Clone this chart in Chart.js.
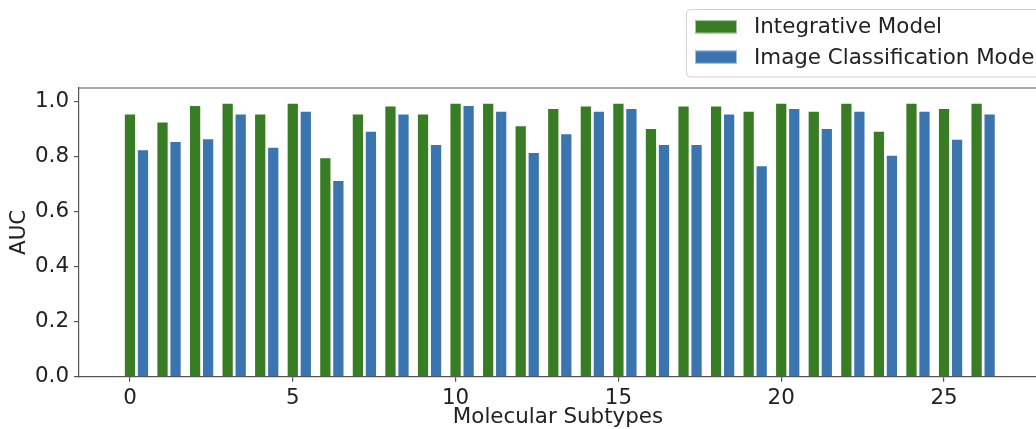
<!DOCTYPE html>
<html>
<head>
<meta charset="utf-8">
<script src="https://cdn.jsdelivr.net/npm/chart.js@4/dist/chart.umd.min.js"></script>
<style>
  html, body { margin: 0; padding: 0; overflow: hidden; background: #fff; width: 1036px; height: 429px; }
  canvas { display: block; }
</style>
</head>
<body>
<canvas id="auc" width="1100" height="440"></canvas>
<script>
// Subtype indices and per-subtype AUC of both models
const subtypes = [0, 1, 2, 3, 4, 5, 6, 7, 8, 9, 10, 11, 12, 13, 14, 15, 16, 17, 18, 19, 20, 21, 22, 23, 24, 25, 26];
const integrativeAUC = [0.956, 0.927, 0.987, 0.995, 0.956, 0.995, 0.797, 0.956, 0.985, 0.956, 0.995, 0.995, 0.913, 0.976,
                        0.985, 0.995, 0.903, 0.985, 0.985, 0.966, 0.995, 0.966, 0.995, 0.893, 0.995, 0.976, 0.995];
const imageClassAUC = [0.826, 0.856, 0.866, 0.956, 0.835, 0.966, 0.714, 0.893, 0.956, 0.845, 0.987, 0.966, 0.816, 0.884,
                       0.966, 0.976, 0.845, 0.845, 0.956, 0.768, 0.976, 0.903, 0.966, 0.806, 0.966, 0.864, 0.956];
const seriesNames = ['Integrative Model', 'Image Classification Model'];
const xTickValues = [0, 5, 10, 15, 20, 25];
const yTickValues = [0, 0.2, 0.4, 0.6, 0.8, 1.0];

const GREEN = '#387d23';
const BLUE = '#3b75af';
const SECOND_BAR_SHIFT = 0.4;   // second bar of each pair sits 0.4 units to the right
const TEXT = '#222222';
const SPINE = '#555555';
const FONT = { family: '"DejaVu Sans", sans-serif', size: 21.4 };

// Framed legend above the axes plus the top spine
const framedLegend = {
  id: 'framedLegend',
  afterDraw(chart) {
    const ctx = chart.ctx;
    const area = chart.chartArea;
    ctx.save();
    ctx.strokeStyle = SPINE;
    ctx.lineWidth = 1.2;
    ctx.beginPath();
    ctx.moveTo(area.left, area.top);
    ctx.lineTo(area.right, area.top);
    ctx.stroke();

    ctx.beginPath();
    ctx.roundRect(686.5, 9.5, 420, 67.5, 4);
    ctx.fillStyle = 'rgba(255,255,255,0.8)';
    ctx.fill();
    ctx.strokeStyle = '#d4d4d4';
    ctx.lineWidth = 1;
    ctx.stroke();

    ctx.font = `${FONT.size}px ${FONT.family}`;
    ctx.textBaseline = 'middle';
    chart.data.datasets.forEach((ds, i) => {
      const cy = 26.8 + i * 30.3;
      ctx.fillStyle = ds.backgroundColor;
      ctx.fillRect(695, cy - 6.7, 42, 13.4);
      ctx.strokeStyle = 'rgba(255,255,255,0.55)';
      ctx.strokeRect(695.5, cy - 6.2, 41, 12.4);
      ctx.fillStyle = TEXT;
      ctx.fillText(ds.label, 754, cy + 1);
    });
    ctx.restore();
  }
};

new Chart(document.getElementById('auc'), {
  type: 'bar',
  data: {
    datasets: [
      {
        label: seriesNames[0],
        data: subtypes.map((s, i) => ({ x: s, y: integrativeAUC[i] })),
        backgroundColor: GREEN,
        borderColor: 'rgba(255,255,255,0.55)',
        borderWidth: 1,
        barThickness: 11.6,
        grouped: false
      },
      {
        label: seriesNames[1],
        data: subtypes.map((s, i) => ({ x: s + SECOND_BAR_SHIFT, y: imageClassAUC[i] })),
        backgroundColor: BLUE,
        borderColor: 'rgba(255,255,255,0.55)',
        borderWidth: 1,
        barThickness: 11.6,
        grouped: false
      }
    ]
  },
  options: {
    responsive: false,
    animation: false,
    devicePixelRatio: 1,
    layout: { padding: { left: 0, top: 88, right: 63, bottom: 0 } },
    plugins: { legend: { display: false }, tooltip: { enabled: false } },
    scales: {
      x: {
        type: 'linear',
        min: -1.565,
        max: 27.855,
        offset: false,
        afterBuildTicks: s => { s.ticks = xTickValues.map(v => ({ value: v })); },
        afterFit: s => { s.height = 63.3; },
        ticks: { font: FONT, color: TEXT, padding: 4, maxRotation: 0, autoSkip: false, callback: v => String(v) },
        grid: { offset: false, drawOnChartArea: false, tickLength: 5, color: SPINE, lineWidth: 1.2 },
        border: { color: SPINE, width: 1.2 },
        title: { display: true, text: 'Molecular Subtypes', font: FONT, color: TEXT, padding: { top: 0, bottom: 10 } }
      },
      y: {
        min: 0,
        max: 1.05,
        afterBuildTicks: s => { s.ticks = yTickValues.map(v => ({ value: v })); },
        afterFit: s => { s.width = 79; },
        ticks: { font: FONT, color: TEXT, padding: 5, callback: v => v.toFixed(1) },
        grid: { drawOnChartArea: false, tickLength: 5, color: SPINE, lineWidth: 1.2 },
        border: { color: SPINE, width: 1.2 },
        title: { display: true, text: 'AUC', font: FONT, color: TEXT, padding: { top: 7, bottom: 0 } }
      }
    }
  },
  plugins: [framedLegend]
});
</script>
</body>
</html>
